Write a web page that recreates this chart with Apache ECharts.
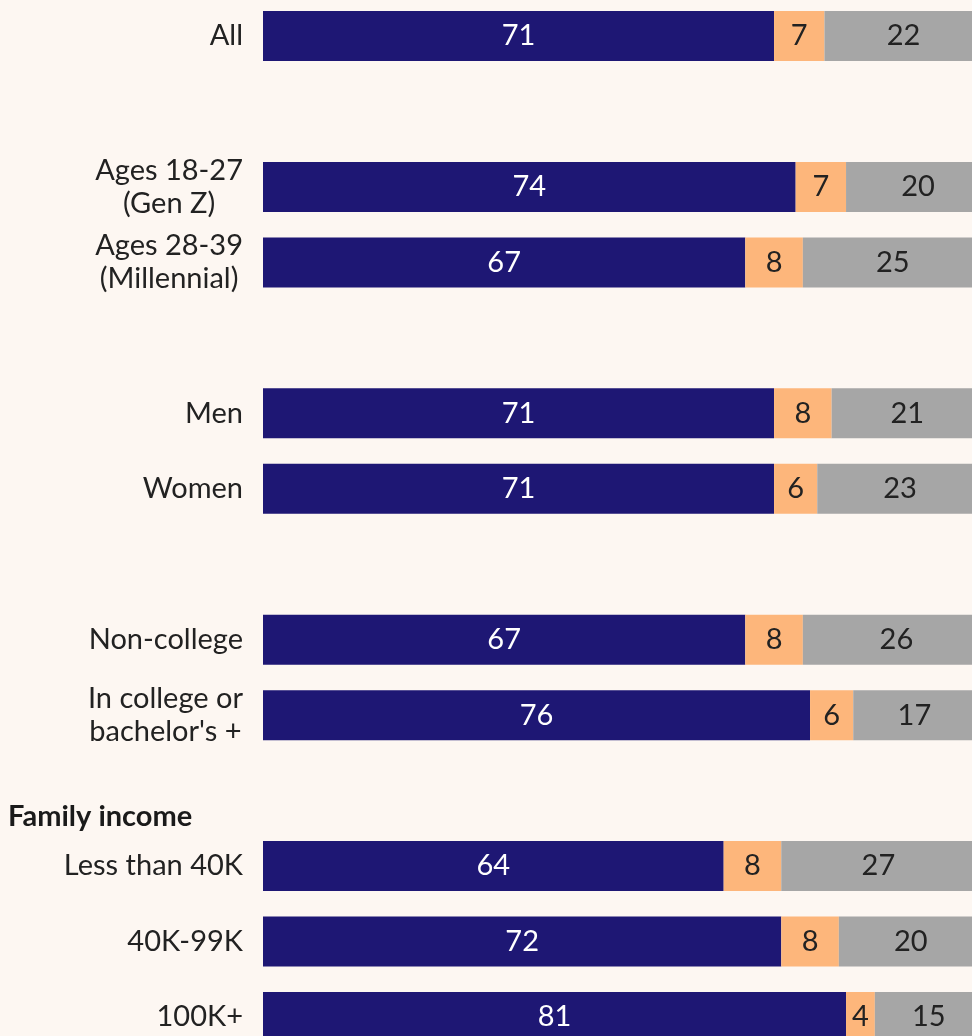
<!DOCTYPE html>
<html>
<head>
<meta charset="utf-8">
<script src="https://cdn.jsdelivr.net/npm/echarts@6/dist/echarts.min.js"></script>
<style>
  html, body { margin: 0; padding: 0; background: #fdf7f2; }
  #chart { width: 972px; height: 1036px; }
</style>
</head>
<body>
<div id="chart"></div>
<script>
  // rows top to bottom, '' = spacer slot
  const categories = [
    'All', '',
    'Ages 18-27\n(Gen Z)', 'Ages 28-39\n(Millennial)', '',
    'Men', 'Women', '',
    'Non-college', 'In college or\nbachelor\'s +', '',
    'Less than 40K', '40K-99K', '100K+'
  ]
  const firstValues = [71, null, 74, 67, null, 71, 71, null, 67, 76, null, 64, 72, 81]
  const middleValues = [7, null, 7, 8, null, 8, 6, null, 8, 6, null, 8, 8, 4]
  const lastValues = [22, null, 20, 25, null, 21, 23, null, 26, 17, null, 27, 20, 15]

  const chart = echarts.init(document.getElementById('chart'))

  const font = 'Lato, "Open Sans", sans-serif'
  const mkSeries = (name, data, color, textColor) => ({
    name: name,
    type: 'bar',
    stack: 'total',
    barWidth: 50,
    clip: false,
    data: data,
    itemStyle: { color: color },
    label: {
      show: true,
      position: 'inside',
      color: textColor,
      fontFamily: font,
      fontSize: 29
    }
  })

  chart.setOption({
    backgroundColor: '#fdf7f2',
    animation: false,
    title: {
      text: 'Family income',
      left: 3,
      top: 797,
      textStyle: { fontFamily: font, fontSize: 29, fontWeight: 'bold', color: '#1a1a1a' }
    },
    grid: { left: 263, right: 0, top: 36, bottom: 19 },
    xAxis: {
      type: 'value',
      min: 0,
      max: 98.5,
      show: false
    },
    yAxis: {
      type: 'category',
      inverse: true,
      boundaryGap: false,
      data: categories,
      axisLine: { show: false },
      axisTick: { show: false },
      splitLine: { show: false },
      axisLabel: {
        margin: 20,
        formatter: v => v.split('\n').map(s => '{c|' + s + '}').join('\n'),
        rich: {
          c: { align: 'center', fontFamily: font, fontSize: 29, color: '#222', lineHeight: 33 }
        }
      }
    },
    series: [
      mkSeries('first', firstValues, '#1e1774', '#ffffff'),
      mkSeries('middle', middleValues, '#fdb67b', '#222222'),
      mkSeries('last', lastValues, '#a6a6a6', '#222222')
    ]
  })

  window.addEventListener('resize', () => {
    chart.resize()
  })
</script>
</body>
</html>
